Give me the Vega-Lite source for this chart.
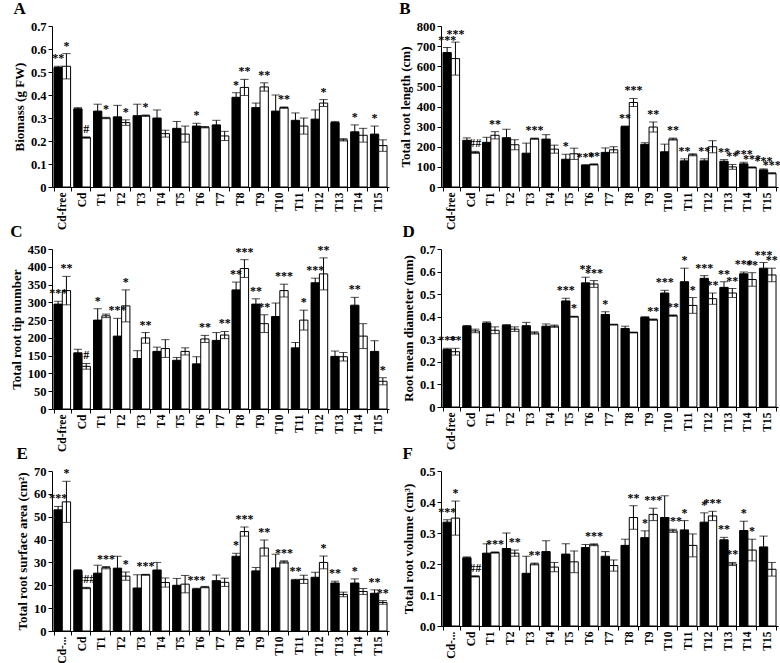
{
"$schema":"https://vega.github.io/schema/vega-lite/v6.json",
"padding":{"left":10,"top":0,"right":2,"bottom":0},
"background":"white",
"config":{"font":"Liberation Serif","view":{"stroke":null},
"title":{"font":"Liberation Serif","fontSize":17,"fontWeight":"bold","anchor":"start","frame":"bounds","offset":2,"color":"black"},
"axis":{"labelFont":"Liberation Serif","labelFontWeight":"bold","labelFontSize":12.5,"labelColor":"black","titleFont":"Liberation Serif","titleFontWeight":"bold","titleFontSize":13,"titleColor":"black","domainColor":"black","tickColor":"black","grid":false,"tickSize":4,"labelOverlap":false,"labelPadding":2,"titlePadding":4},
"axisX":{"labelAngle":-90,"title":null,"ticks":true,"tickBand":"extent","labelPadding":1,"labelFontSize":11.5},
"text":{"font":"Liberation Serif","fontWeight":"bold","fontSize":12,"color":"black","fill":"black"}},
"data":{"values":[
{"p":"A","g":"Cd-free","s":"1","v":0.52,"e":0.005,"h":0.525,"t":"**"},
{"p":"A","g":"Cd-free","s":"2","v":0.525,"e":0.055,"h":0.58,"t":"*"},
{"p":"A","g":"Cd","s":"1","v":0.34,"e":0.005,"h":0.345,"t":""},
{"p":"A","g":"Cd","s":"2","v":0.215,"e":0.003,"h":0.218,"t":"#"},
{"p":"A","g":"T1","s":"1","v":0.33,"e":0.03,"h":0.36,"t":""},
{"p":"A","g":"T1","s":"2","v":0.3,"e":0.003,"h":0.303,"t":"*"},
{"p":"A","g":"T2","s":"1","v":0.305,"e":0.05,"h":0.355,"t":""},
{"p":"A","g":"T2","s":"2","v":0.28,"e":0.012,"h":0.292,"t":"*"},
{"p":"A","g":"T3","s":"1","v":0.31,"e":0.05,"h":0.36,"t":""},
{"p":"A","g":"T3","s":"2","v":0.31,"e":0.003,"h":0.313,"t":"*"},
{"p":"A","g":"T4","s":"1","v":0.3,"e":0.035,"h":0.335,"t":""},
{"p":"A","g":"T4","s":"2","v":0.232,"e":0.015,"h":0.247,"t":""},
{"p":"A","g":"T5","s":"1","v":0.255,"e":0.03,"h":0.285,"t":""},
{"p":"A","g":"T5","s":"2","v":0.23,"e":0.035,"h":0.265,"t":""},
{"p":"A","g":"T6","s":"1","v":0.265,"e":0.012,"h":0.277,"t":"*"},
{"p":"A","g":"T6","s":"2","v":0.26,"e":0.003,"h":0.263,"t":""},
{"p":"A","g":"T7","s":"1","v":0.27,"e":0.02,"h":0.29,"t":""},
{"p":"A","g":"T7","s":"2","v":0.222,"e":0.02,"h":0.242,"t":""},
{"p":"A","g":"T8","s":"1","v":0.39,"e":0.02,"h":0.41,"t":"*"},
{"p":"A","g":"T8","s":"2","v":0.433,"e":0.035,"h":0.468,"t":"**"},
{"p":"A","g":"T9","s":"1","v":0.345,"e":0.02,"h":0.365,"t":""},
{"p":"A","g":"T9","s":"2","v":0.435,"e":0.018,"h":0.453,"t":"**"},
{"p":"A","g":"T10","s":"1","v":0.33,"e":0.07,"h":0.4,"t":""},
{"p":"A","g":"T10","s":"2","v":0.345,"e":0.003,"h":0.348,"t":"**"},
{"p":"A","g":"T11","s":"1","v":0.29,"e":0.032,"h":0.322,"t":""},
{"p":"A","g":"T11","s":"2","v":0.265,"e":0.035,"h":0.3,"t":""},
{"p":"A","g":"T12","s":"1","v":0.295,"e":0.04,"h":0.335,"t":""},
{"p":"A","g":"T12","s":"2","v":0.365,"e":0.015,"h":0.38,"t":"*"},
{"p":"A","g":"T13","s":"1","v":0.28,"e":0.005,"h":0.285,"t":""},
{"p":"A","g":"T13","s":"2","v":0.205,"e":0.005,"h":0.21,"t":""},
{"p":"A","g":"T14","s":"1","v":0.24,"e":0.03,"h":0.27,"t":"*"},
{"p":"A","g":"T14","s":"2","v":0.225,"e":0.03,"h":0.255,"t":""},
{"p":"A","g":"T15","s":"1","v":0.23,"e":0.035,"h":0.265,"t":"*"},
{"p":"A","g":"T15","s":"2","v":0.18,"e":0.025,"h":0.205,"t":""},
{"p":"B","g":"Cd-free","s":"1","v":668,"e":25,"h":693,"t":"***"},
{"p":"B","g":"Cd-free","s":"2","v":638,"e":82,"h":720,"t":"***"},
{"p":"B","g":"Cd","s":"1","v":232,"e":12,"h":244,"t":""},
{"p":"B","g":"Cd","s":"2","v":172,"e":5,"h":177,"t":"##"},
{"p":"B","g":"T1","s":"1","v":222,"e":25,"h":247,"t":""},
{"p":"B","g":"T1","s":"2","v":257,"e":18,"h":275,"t":"**"},
{"p":"B","g":"T2","s":"1","v":245,"e":42,"h":287,"t":""},
{"p":"B","g":"T2","s":"2","v":210,"e":25,"h":235,"t":""},
{"p":"B","g":"T3","s":"1","v":168,"e":50,"h":218,"t":""},
{"p":"B","g":"T3","s":"2","v":240,"e":3,"h":243,"t":"***"},
{"p":"B","g":"T4","s":"1","v":238,"e":22,"h":260,"t":""},
{"p":"B","g":"T4","s":"2","v":188,"e":20,"h":208,"t":""},
{"p":"B","g":"T5","s":"1","v":138,"e":25,"h":163,"t":"*"},
{"p":"B","g":"T5","s":"2","v":165,"e":28,"h":193,"t":""},
{"p":"B","g":"T6","s":"1","v":108,"e":3,"h":111,"t":"***"},
{"p":"B","g":"T6","s":"2","v":112,"e":3,"h":115,"t":"**"},
{"p":"B","g":"T7","s":"1","v":172,"e":22,"h":194,"t":""},
{"p":"B","g":"T7","s":"2","v":185,"e":15,"h":200,"t":""},
{"p":"B","g":"T8","s":"1","v":300,"e":3,"h":303,"t":"**"},
{"p":"B","g":"T8","s":"2","v":420,"e":20,"h":440,"t":"***"},
{"p":"B","g":"T9","s":"1","v":212,"e":8,"h":220,"t":""},
{"p":"B","g":"T9","s":"2","v":298,"e":25,"h":323,"t":"**"},
{"p":"B","g":"T10","s":"1","v":175,"e":38,"h":213,"t":""},
{"p":"B","g":"T10","s":"2","v":238,"e":5,"h":243,"t":"**"},
{"p":"B","g":"T11","s":"1","v":130,"e":10,"h":140,"t":"**"},
{"p":"B","g":"T11","s":"2","v":160,"e":5,"h":165,"t":""},
{"p":"B","g":"T12","s":"1","v":130,"e":10,"h":140,"t":"**"},
{"p":"B","g":"T12","s":"2","v":200,"e":30,"h":230,"t":""},
{"p":"B","g":"T13","s":"1","v":128,"e":8,"h":136,"t":"**"},
{"p":"B","g":"T13","s":"2","v":100,"e":12,"h":112,"t":"**"},
{"p":"B","g":"T14","s":"1","v":115,"e":8,"h":123,"t":"***"},
{"p":"B","g":"T14","s":"2","v":97,"e":3,"h":100,"t":"***"},
{"p":"B","g":"T15","s":"1","v":85,"e":5,"h":90,"t":"***"},
{"p":"B","g":"T15","s":"2","v":68,"e":3,"h":71,"t":"***"},
{"p":"C","g":"Cd-free","s":"1","v":295,"e":8,"h":303,"t":"***"},
{"p":"C","g":"Cd-free","s":"2","v":333,"e":40,"h":373,"t":"**"},
{"p":"C","g":"Cd","s":"1","v":158,"e":10,"h":168,"t":""},
{"p":"C","g":"Cd","s":"2","v":120,"e":8,"h":128,"t":"#"},
{"p":"C","g":"T1","s":"1","v":250,"e":32,"h":282,"t":"*"},
{"p":"C","g":"T1","s":"2","v":262,"e":5,"h":267,"t":""},
{"p":"C","g":"T2","s":"1","v":205,"e":50,"h":255,"t":"***"},
{"p":"C","g":"T2","s":"2","v":290,"e":45,"h":335,"t":"*"},
{"p":"C","g":"T3","s":"1","v":142,"e":22,"h":164,"t":""},
{"p":"C","g":"T3","s":"2","v":200,"e":15,"h":215,"t":"**"},
{"p":"C","g":"T4","s":"1","v":162,"e":12,"h":174,"t":""},
{"p":"C","g":"T4","s":"2","v":170,"e":25,"h":195,"t":""},
{"p":"C","g":"T5","s":"1","v":137,"e":8,"h":145,"t":""},
{"p":"C","g":"T5","s":"2","v":162,"e":10,"h":172,"t":""},
{"p":"C","g":"T6","s":"1","v":127,"e":20,"h":147,"t":""},
{"p":"C","g":"T6","s":"2","v":197,"e":10,"h":207,"t":"**"},
{"p":"C","g":"T7","s":"1","v":193,"e":22,"h":215,"t":""},
{"p":"C","g":"T7","s":"2","v":208,"e":10,"h":218,"t":"**"},
{"p":"C","g":"T8","s":"1","v":335,"e":22,"h":357,"t":"**"},
{"p":"C","g":"T8","s":"2","v":395,"e":25,"h":420,"t":"***"},
{"p":"C","g":"T9","s":"1","v":295,"e":15,"h":310,"t":"**"},
{"p":"C","g":"T9","s":"2","v":240,"e":25,"h":265,"t":"**"},
{"p":"C","g":"T10","s":"1","v":260,"e":38,"h":298,"t":""},
{"p":"C","g":"T10","s":"2","v":333,"e":18,"h":351,"t":"***"},
{"p":"C","g":"T11","s":"1","v":172,"e":15,"h":187,"t":""},
{"p":"C","g":"T11","s":"2","v":250,"e":28,"h":278,"t":"*"},
{"p":"C","g":"T12","s":"1","v":355,"e":13,"h":368,"t":"***"},
{"p":"C","g":"T12","s":"2","v":380,"e":45,"h":425,"t":"**"},
{"p":"C","g":"T13","s":"1","v":148,"e":15,"h":163,"t":""},
{"p":"C","g":"T13","s":"2","v":147,"e":12,"h":159,"t":""},
{"p":"C","g":"T14","s":"1","v":292,"e":22,"h":314,"t":"**"},
{"p":"C","g":"T14","s":"2","v":205,"e":35,"h":240,"t":""},
{"p":"C","g":"T15","s":"1","v":162,"e":30,"h":192,"t":""},
{"p":"C","g":"T15","s":"2","v":78,"e":10,"h":88,"t":"*"},
{"p":"D","g":"Cd-free","s":"1","v":0.255,"e":0.005,"h":0.26,"t":"***"},
{"p":"D","g":"Cd-free","s":"2","v":0.245,"e":0.015,"h":0.26,"t":"**"},
{"p":"D","g":"Cd","s":"1","v":0.358,"e":0.003,"h":0.361,"t":""},
{"p":"D","g":"Cd","s":"2","v":0.337,"e":0.008,"h":0.345,"t":""},
{"p":"D","g":"T1","s":"1","v":0.372,"e":0.005,"h":0.377,"t":""},
{"p":"D","g":"T1","s":"2","v":0.34,"e":0.015,"h":0.355,"t":""},
{"p":"D","g":"T2","s":"1","v":0.362,"e":0.003,"h":0.365,"t":""},
{"p":"D","g":"T2","s":"2","v":0.345,"e":0.01,"h":0.355,"t":""},
{"p":"D","g":"T3","s":"1","v":0.36,"e":0.015,"h":0.375,"t":""},
{"p":"D","g":"T3","s":"2","v":0.328,"e":0.005,"h":0.333,"t":""},
{"p":"D","g":"T4","s":"1","v":0.358,"e":0.01,"h":0.368,"t":""},
{"p":"D","g":"T4","s":"2","v":0.358,"e":0.005,"h":0.363,"t":""},
{"p":"D","g":"T5","s":"1","v":0.47,"e":0.012,"h":0.482,"t":"***"},
{"p":"D","g":"T5","s":"2","v":0.4,"e":0.002,"h":0.402,"t":"*"},
{"p":"D","g":"T6","s":"1","v":0.55,"e":0.025,"h":0.575,"t":"**"},
{"p":"D","g":"T6","s":"2","v":0.545,"e":0.015,"h":0.56,"t":"***"},
{"p":"D","g":"T7","s":"1","v":0.41,"e":0.012,"h":0.422,"t":"*"},
{"p":"D","g":"T7","s":"2","v":0.365,"e":0.002,"h":0.367,"t":""},
{"p":"D","g":"T8","s":"1","v":0.348,"e":0.01,"h":0.358,"t":""},
{"p":"D","g":"T8","s":"2","v":0.33,"e":0.002,"h":0.332,"t":""},
{"p":"D","g":"T9","s":"1","v":0.397,"e":0.003,"h":0.4,"t":""},
{"p":"D","g":"T9","s":"2","v":0.387,"e":0.003,"h":0.39,"t":"**"},
{"p":"D","g":"T10","s":"1","v":0.505,"e":0.012,"h":0.517,"t":"***"},
{"p":"D","g":"T10","s":"2","v":0.405,"e":0.003,"h":0.408,"t":"**"},
{"p":"D","g":"T11","s":"1","v":0.555,"e":0.06,"h":0.615,"t":"*"},
{"p":"D","g":"T11","s":"2","v":0.45,"e":0.035,"h":0.485,"t":"*"},
{"p":"D","g":"T12","s":"1","v":0.57,"e":0.012,"h":0.582,"t":"***"},
{"p":"D","g":"T12","s":"2","v":0.48,"e":0.025,"h":0.505,"t":"**"},
{"p":"D","g":"T13","s":"1","v":0.53,"e":0.025,"h":0.555,"t":"**"},
{"p":"D","g":"T13","s":"2","v":0.505,"e":0.02,"h":0.525,"t":"**"},
{"p":"D","g":"T14","s":"1","v":0.59,"e":0.008,"h":0.598,"t":"***"},
{"p":"D","g":"T14","s":"2","v":0.565,"e":0.03,"h":0.595,"t":"**"},
{"p":"D","g":"T15","s":"1","v":0.615,"e":0.025,"h":0.64,"t":"***"},
{"p":"D","g":"T15","s":"2","v":0.585,"e":0.03,"h":0.615,"t":"**"},
{"p":"E","g":"Cd-free","s":"1","v":53,"e":1.5,"h":54.5,"t":"***"},
{"p":"E","g":"Cd-free","s":"2","v":56.5,"e":9,"h":65.5,"t":"*"},
{"p":"E","g":"Cd","s":"1","v":26.5,"e":0.3,"h":26.8,"t":""},
{"p":"E","g":"Cd","s":"2","v":18.8,"e":0.3,"h":19.1,"t":"###"},
{"p":"E","g":"T1","s":"1","v":25.3,"e":3.5,"h":28.8,"t":""},
{"p":"E","g":"T1","s":"2","v":27.7,"e":0.5,"h":28.2,"t":"***"},
{"p":"E","g":"T2","s":"1","v":27.5,"e":5.2,"h":32.7,"t":""},
{"p":"E","g":"T2","s":"2","v":24,"e":1.8,"h":25.8,"t":"*"},
{"p":"E","g":"T3","s":"1","v":18.8,"e":5.8,"h":24.6,"t":""},
{"p":"E","g":"T3","s":"2","v":24.6,"e":0.2,"h":24.8,"t":"***"},
{"p":"E","g":"T4","s":"1","v":26.7,"e":3.3,"h":30,"t":""},
{"p":"E","g":"T4","s":"2","v":21.2,"e":2,"h":23.2,"t":""},
{"p":"E","g":"T5","s":"1","v":20,"e":3,"h":23,"t":""},
{"p":"E","g":"T5","s":"2","v":20.5,"e":3.8,"h":24.3,"t":""},
{"p":"E","g":"T6","s":"1","v":18.4,"e":0.3,"h":18.7,"t":"***"},
{"p":"E","g":"T6","s":"2","v":19.2,"e":0.3,"h":19.5,"t":""},
{"p":"E","g":"T7","s":"1","v":22,"e":2.5,"h":24.5,"t":""},
{"p":"E","g":"T7","s":"2","v":21.3,"e":1.8,"h":23.1,"t":""},
{"p":"E","g":"T8","s":"1","v":32.7,"e":1.3,"h":34,"t":"*"},
{"p":"E","g":"T8","s":"2","v":43.5,"e":2,"h":45.5,"t":"***"},
{"p":"E","g":"T9","s":"1","v":26.3,"e":1.5,"h":27.8,"t":""},
{"p":"E","g":"T9","s":"2","v":36.3,"e":3.5,"h":39.8,"t":"**"},
{"p":"E","g":"T10","s":"1","v":27.6,"e":6,"h":33.6,"t":""},
{"p":"E","g":"T10","s":"2","v":30.2,"e":0.5,"h":30.7,"t":"***"},
{"p":"E","g":"T11","s":"1","v":22.3,"e":0.3,"h":22.6,"t":"**"},
{"p":"E","g":"T11","s":"2","v":22.6,"e":1.8,"h":24.4,"t":""},
{"p":"E","g":"T12","s":"1","v":23.5,"e":2.2,"h":25.7,"t":""},
{"p":"E","g":"T12","s":"2","v":30,"e":2.8,"h":32.8,"t":"*"},
{"p":"E","g":"T13","s":"1","v":21,"e":0.8,"h":21.8,"t":"**"},
{"p":"E","g":"T13","s":"2","v":16,"e":1,"h":17,"t":""},
{"p":"E","g":"T14","s":"1","v":21,"e":1.8,"h":22.8,"t":"*"},
{"p":"E","g":"T14","s":"2","v":17.3,"e":1.3,"h":18.6,"t":""},
{"p":"E","g":"T15","s":"1","v":16.5,"e":1.5,"h":18,"t":"**"},
{"p":"E","g":"T15","s":"2","v":12.5,"e":0.8,"h":13.3,"t":"**"},
{"p":"F","g":"Cd-free","s":"1","v":0.335,"e":0.008,"h":0.343,"t":"***"},
{"p":"F","g":"Cd-free","s":"2","v":0.348,"e":0.055,"h":0.403,"t":"*"},
{"p":"F","g":"Cd","s":"1","v":0.22,"e":0.003,"h":0.223,"t":""},
{"p":"F","g":"Cd","s":"2","v":0.16,"e":0.002,"h":0.162,"t":"##"},
{"p":"F","g":"T1","s":"1","v":0.235,"e":0.03,"h":0.265,"t":""},
{"p":"F","g":"T1","s":"2","v":0.237,"e":0.002,"h":0.239,"t":"***"},
{"p":"F","g":"T2","s":"1","v":0.25,"e":0.05,"h":0.3,"t":""},
{"p":"F","g":"T2","s":"2","v":0.235,"e":0.01,"h":0.245,"t":"**"},
{"p":"F","g":"T3","s":"1","v":0.17,"e":0.055,"h":0.225,"t":""},
{"p":"F","g":"T3","s":"2","v":0.2,"e":0.003,"h":0.203,"t":"**"},
{"p":"F","g":"T4","s":"1","v":0.24,"e":0.035,"h":0.275,"t":""},
{"p":"F","g":"T4","s":"2","v":0.19,"e":0.015,"h":0.205,"t":""},
{"p":"F","g":"T5","s":"1","v":0.232,"e":0.033,"h":0.265,"t":""},
{"p":"F","g":"T5","s":"2","v":0.207,"e":0.035,"h":0.242,"t":""},
{"p":"F","g":"T6","s":"1","v":0.253,"e":0.01,"h":0.263,"t":""},
{"p":"F","g":"T6","s":"2","v":0.262,"e":0.003,"h":0.265,"t":"***"},
{"p":"F","g":"T7","s":"1","v":0.225,"e":0.015,"h":0.24,"t":""},
{"p":"F","g":"T7","s":"2","v":0.195,"e":0.018,"h":0.213,"t":""},
{"p":"F","g":"T8","s":"1","v":0.26,"e":0.02,"h":0.28,"t":""},
{"p":"F","g":"T8","s":"2","v":0.35,"e":0.038,"h":0.388,"t":"**"},
{"p":"F","g":"T9","s":"1","v":0.285,"e":0.022,"h":0.307,"t":"*"},
{"p":"F","g":"T9","s":"2","v":0.36,"e":0.02,"h":0.38,"t":"***"},
{"p":"F","g":"T10","s":"1","v":0.35,"e":0.07,"h":0.42,"t":""},
{"p":"F","g":"T10","s":"2","v":0.307,"e":0.005,"h":0.312,"t":"***"},
{"p":"F","g":"T11","s":"1","v":0.31,"e":0.03,"h":0.34,"t":"*"},
{"p":"F","g":"T11","s":"2","v":0.26,"e":0.037,"h":0.297,"t":""},
{"p":"F","g":"T12","s":"1","v":0.335,"e":0.03,"h":0.365,"t":"*"},
{"p":"F","g":"T12","s":"2","v":0.355,"e":0.015,"h":0.37,"t":"***"},
{"p":"F","g":"T13","s":"1","v":0.278,"e":0.008,"h":0.286,"t":"**"},
{"p":"F","g":"T13","s":"2","v":0.2,"e":0.005,"h":0.205,"t":"**"},
{"p":"F","g":"T14","s":"1","v":0.308,"e":0.03,"h":0.338,"t":"*"},
{"p":"F","g":"T14","s":"2","v":0.245,"e":0.035,"h":0.28,"t":"*"},
{"p":"F","g":"T15","s":"1","v":0.255,"e":0.035,"h":0.29,"t":""},
{"p":"F","g":"T15","s":"2","v":0.183,"e":0.022,"h":0.205,"t":""}
]},
"columns":2,
"spacing":{"row":62,"column":52},
"bounds":"flush",
"concat":[
{"width":337,"height":161,"title":"A","transform":[{"filter":"datum.p=='A'"}],
 "encoding":{"x":{"field":"g","type":"nominal","sort":["Cd-free","Cd","T1","T2","T3","T4","T5","T6","T7","T8","T9","T10","T11","T12","T13","T14","T15"],"scale":{"paddingInner":0.16,"paddingOuter":0.1}},"xOffset":{"field":"s","type":"nominal"}},
 "layer":[
  {"mark":{"type":"bar","stroke":"black","strokeWidth":1},"encoding":{"y":{"field":"v","type":"quantitative","title":"Biomass (g FW)","scale":{"domain":[0,0.7]},"axis":{"values":[0,0.1,0.2,0.3,0.4,0.5,0.6,0.7],"labelExpr":"datum.value==0?'0':format(datum.value,'.1f')"}},"fill":{"field":"s","type":"nominal","scale":{"domain":["1","2"],"range":["black","white"]},"legend":null}}},
  {"mark":{"type":"errorbar","ticks":true,"color":"black"},"encoding":{"y":{"field":"v","type":"quantitative","title":"Biomass (g FW)","axis":{"values":[0,0.1,0.2,0.3,0.4,0.5,0.6,0.7],"labelExpr":"datum.value==0?'0':format(datum.value,'.1f')"}},"yError":{"field":"e"}}},
  {"mark":{"type":"text","baseline":"bottom","dy":-1,"font":"Liberation Serif","fontWeight":"bold","fontSize":12,"fill":"black"},"encoding":{"y":{"field":"h","type":"quantitative","title":"Biomass (g FW)","axis":{"values":[0,0.1,0.2,0.3,0.4,0.5,0.6,0.7],"labelExpr":"datum.value==0?'0':format(datum.value,'.1f')"}},"text":{"field":"t"}}}
 ]},
{"width":337,"height":161,"title":"B","transform":[{"filter":"datum.p=='B'"}],
 "encoding":{"x":{"field":"g","type":"nominal","sort":["Cd-free","Cd","T1","T2","T3","T4","T5","T6","T7","T8","T9","T10","T11","T12","T13","T14","T15"],"scale":{"paddingInner":0.16,"paddingOuter":0.1}},"xOffset":{"field":"s","type":"nominal"}},
 "layer":[
  {"mark":{"type":"bar","stroke":"black","strokeWidth":1},"encoding":{"y":{"field":"v","type":"quantitative","title":"Total root length (cm)","scale":{"domain":[0,800]},"axis":{"values":[0,100,200,300,400,500,600,700,800]}},"fill":{"field":"s","type":"nominal","scale":{"domain":["1","2"],"range":["black","white"]},"legend":null}}},
  {"mark":{"type":"errorbar","ticks":true,"color":"black"},"encoding":{"y":{"field":"v","type":"quantitative","title":"Total root length (cm)","axis":{"values":[0,100,200,300,400,500,600,700,800]}},"yError":{"field":"e"}}},
  {"mark":{"type":"text","baseline":"bottom","dy":-1,"font":"Liberation Serif","fontWeight":"bold","fontSize":12,"fill":"black"},"encoding":{"y":{"field":"h","type":"quantitative","title":"Total root length (cm)","axis":{"values":[0,100,200,300,400,500,600,700,800]}},"text":{"field":"t"}}}
 ]},
{"width":337,"height":160,"title":"C","transform":[{"filter":"datum.p=='C'"}],
 "encoding":{"x":{"field":"g","type":"nominal","sort":["Cd-free","Cd","T1","T2","T3","T4","T5","T6","T7","T8","T9","T10","T11","T12","T13","T14","T15"],"scale":{"paddingInner":0.16,"paddingOuter":0.1}},"xOffset":{"field":"s","type":"nominal"}},
 "layer":[
  {"mark":{"type":"bar","stroke":"black","strokeWidth":1},"encoding":{"y":{"field":"v","type":"quantitative","title":"Total root tip number","scale":{"domain":[0,450]},"axis":{"values":[0,50,100,150,200,250,300,350,400,450]}},"fill":{"field":"s","type":"nominal","scale":{"domain":["1","2"],"range":["black","white"]},"legend":null}}},
  {"mark":{"type":"errorbar","ticks":true,"color":"black"},"encoding":{"y":{"field":"v","type":"quantitative","title":"Total root tip number","axis":{"values":[0,50,100,150,200,250,300,350,400,450]}},"yError":{"field":"e"}}},
  {"mark":{"type":"text","baseline":"bottom","dy":-1,"font":"Liberation Serif","fontWeight":"bold","fontSize":12,"fill":"black"},"encoding":{"y":{"field":"h","type":"quantitative","title":"Total root tip number","axis":{"values":[0,50,100,150,200,250,300,350,400,450]}},"text":{"field":"t"}}}
 ]},
{"width":337,"height":158,"title":"D","transform":[{"filter":"datum.p=='D'"}],
 "encoding":{"x":{"field":"g","type":"nominal","sort":["Cd-free","Cd","T1","T2","T3","T4","T5","T6","T7","T8","T9","T10","T11","T12","T13","T14","T15"],"scale":{"paddingInner":0.16,"paddingOuter":0.1}},"xOffset":{"field":"s","type":"nominal"}},
 "layer":[
  {"mark":{"type":"bar","stroke":"black","strokeWidth":1},"encoding":{"y":{"field":"v","type":"quantitative","title":"Root mean diameter (mm)","scale":{"domain":[0,0.7]},"axis":{"values":[0,0.1,0.2,0.3,0.4,0.5,0.6,0.7],"labelExpr":"datum.value==0?'0':format(datum.value,'.1f')"}},"fill":{"field":"s","type":"nominal","scale":{"domain":["1","2"],"range":["black","white"]},"legend":null}}},
  {"mark":{"type":"errorbar","ticks":true,"color":"black"},"encoding":{"y":{"field":"v","type":"quantitative","title":"Root mean diameter (mm)","axis":{"values":[0,0.1,0.2,0.3,0.4,0.5,0.6,0.7],"labelExpr":"datum.value==0?'0':format(datum.value,'.1f')"}},"yError":{"field":"e"}}},
  {"mark":{"type":"text","baseline":"bottom","dy":-1,"font":"Liberation Serif","fontWeight":"bold","fontSize":12,"fill":"black"},"encoding":{"y":{"field":"h","type":"quantitative","title":"Root mean diameter (mm)","axis":{"values":[0,0.1,0.2,0.3,0.4,0.5,0.6,0.7],"labelExpr":"datum.value==0?'0':format(datum.value,'.1f')"}},"text":{"field":"t"}}}
 ]},
{"width":337,"height":160,"title":"E","transform":[{"filter":"datum.p=='E'"}],
 "encoding":{"x":{"field":"g","type":"nominal","sort":["Cd-free","Cd","T1","T2","T3","T4","T5","T6","T7","T8","T9","T10","T11","T12","T13","T14","T15"],"scale":{"paddingInner":0.16,"paddingOuter":0.1},"axis":{"labelExpr":"datum.value=='Cd-free'?'Cd-...':datum.value"}},"xOffset":{"field":"s","type":"nominal"}},
 "layer":[
  {"mark":{"type":"bar","stroke":"black","strokeWidth":1},"encoding":{"y":{"field":"v","type":"quantitative","title":"Total root surface area (cm²)","scale":{"domain":[0,70]},"axis":{"values":[0,10,20,30,40,50,60,70]}},"fill":{"field":"s","type":"nominal","scale":{"domain":["1","2"],"range":["black","white"]},"legend":null}}},
  {"mark":{"type":"errorbar","ticks":true,"color":"black"},"encoding":{"y":{"field":"v","type":"quantitative","title":"Total root surface area (cm²)","axis":{"values":[0,10,20,30,40,50,60,70]}},"yError":{"field":"e"}}},
  {"mark":{"type":"text","baseline":"bottom","dy":-1,"font":"Liberation Serif","fontWeight":"bold","fontSize":12,"fill":"black"},"encoding":{"y":{"field":"h","type":"quantitative","title":"Total root surface area (cm²)","axis":{"values":[0,10,20,30,40,50,60,70]}},"text":{"field":"t"}}}
 ]},
{"width":337,"height":155,"title":"F","transform":[{"filter":"datum.p=='F'"}],
 "encoding":{"x":{"field":"g","type":"nominal","sort":["Cd-free","Cd","T1","T2","T3","T4","T5","T6","T7","T8","T9","T10","T11","T12","T13","T14","T15"],"scale":{"paddingInner":0.16,"paddingOuter":0.1},"axis":{"labelExpr":"datum.value=='Cd-free'?'Cd-...':datum.value"}},"xOffset":{"field":"s","type":"nominal"}},
 "layer":[
  {"mark":{"type":"bar","stroke":"black","strokeWidth":1},"encoding":{"y":{"field":"v","type":"quantitative","title":"Total root volume (cm³)","scale":{"domain":[0,0.5]},"axis":{"values":[0,0.1,0.2,0.3,0.4,0.5],"format":".1f"}},"fill":{"field":"s","type":"nominal","scale":{"domain":["1","2"],"range":["black","white"]},"legend":null}}},
  {"mark":{"type":"errorbar","ticks":true,"color":"black"},"encoding":{"y":{"field":"v","type":"quantitative","title":"Total root volume (cm³)","axis":{"values":[0,0.1,0.2,0.3,0.4,0.5],"format":".1f"}},"yError":{"field":"e"}}},
  {"mark":{"type":"text","baseline":"bottom","dy":-1,"font":"Liberation Serif","fontWeight":"bold","fontSize":12,"fill":"black"},"encoding":{"y":{"field":"h","type":"quantitative","title":"Total root volume (cm³)","axis":{"values":[0,0.1,0.2,0.3,0.4,0.5],"format":".1f"}},"text":{"field":"t"}}}
 ]}
]
}
